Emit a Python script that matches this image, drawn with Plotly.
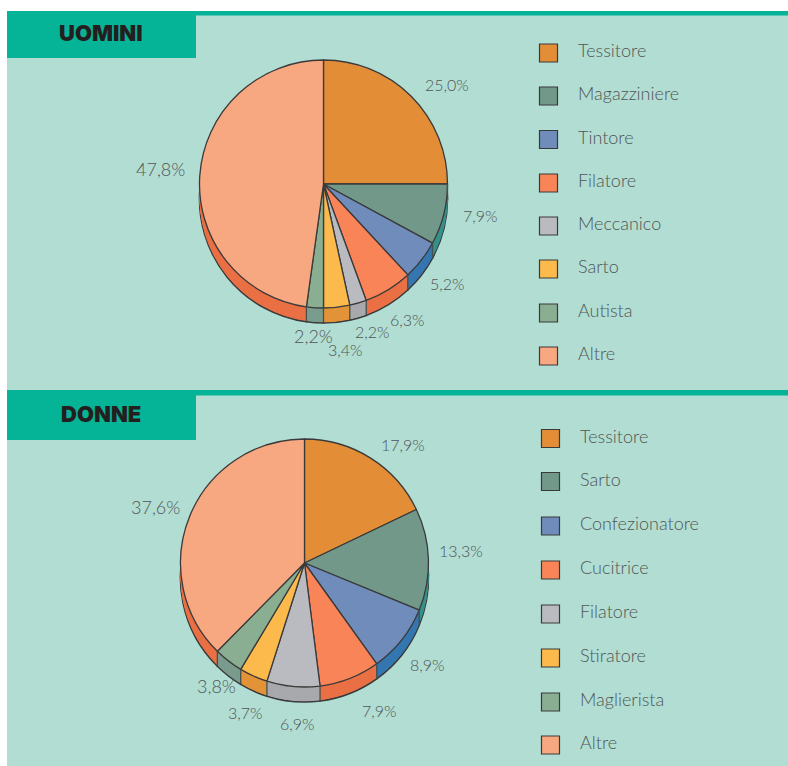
import numpy as np
import plotly.graph_objects as go

W, H = 788, 766
PANEL = "#b2ddd3"
TEAL = "#05b496"
OUTLINE = "#3a3a3a"
TEXT = "#505655"
FONT = "Lato"

men_labels = ["Tessitore", "Magazziniere", "Tintore", "Filatore", "Meccanico", "Sarto", "Autista", "Altre"]
men_values = [25.0, 7.9, 5.2, 6.3, 2.2, 3.4, 2.2, 47.8]
women_labels = ["Tessitore", "Sarto", "Confezionatore", "Cucitrice", "Filatore", "Stiratore", "Maglierista", "Altre"]
women_values = [17.9, 13.3, 8.9, 7.9, 6.9, 3.7, 3.8, 37.6]

top_colors = ["#e38e36", "#72988a", "#6f8cba", "#f98458", "#babbc0", "#fcb94c", "#8aae92", "#f8a880"]
side_colors = ["#e39338", "#36908a", "#3476b0", "#ea7045", "#a8a9ad", "#e39338", "#7a9c8e", "#ea7045"]

men_label_pos = [(447, 85), (480, 215), (447, 283), (407, 319), (372, 332), (345, 350), (313, 336), (160, 169)]
women_label_pos = [(403, 445), (461, 550), (427, 664), (379, 710), (297, 723), (245, 712), (216, 686), (155, 507)]
men_label_size = [16, 16, 16, 16, 16, 16, 18, 18]
women_label_size = [16, 16, 16, 16, 16, 16, 18, 18]
men_rows = [53, 96, 139.5, 183, 226, 269, 313, 356]
women_rows = [438.5, 481.5, 526, 570, 614, 658, 702, 745]

R = 124
DEPTH = 15


def X(px):
    return px / W


def Y(px):
    return 1 - px / H


fig = go.Figure()
shapes = []
annotations = []


def rect(x0, y0, x1, y1, fill, line=None, lw=0, layer="below"):
    shapes.append(dict(type="rect", xref="paper", yref="paper", x0=X(x0), x1=X(x1), y0=Y(y1), y1=Y(y0),
                       fillcolor=fill, line=dict(color=line or fill, width=lw), layer=layer))


def text(x, y, s, size, color=TEXT, anchor="center", weight=300, family=FONT):
    annotations.append(dict(x=X(x), y=Y(y), xref="paper", yref="paper", text=s, showarrow=False,
                            xanchor=anchor, yanchor="middle",
                            font=dict(family=family, size=size, color=color, weight=weight)))


def pie_at(labels, values, cx, cy, colors, line_color, line_width):
    fig.add_trace(go.Pie(labels=labels, values=values, sort=False, direction="clockwise", rotation=0,
                         textinfo="none", hoverinfo="skip", showlegend=False,
                         domain=dict(x=[X(cx - R), X(cx + R)], y=[Y(cy + R), Y(cy - R)]),
                         marker=dict(colors=colors, line=dict(color=line_color, width=line_width))))


def block(labels, values, cx, cy, label_pos, label_size, rows, sq_x, txt_x):
    # side wall: stacked copies of the pie, the lowest carrying the dark rim
    for off in range(DEPTH, 0, -1):
        pie_at(labels, values, cx, cy + off, side_colors,
               OUTLINE if off == DEPTH else "rgba(0,0,0,0)", 1.6 if off == DEPTH else 0)
    pie_at(labels, values, cx, cy, top_colors, OUTLINE, 1.3)

    # vertical seams of the wall at the slice boundaries on the lower half
    angles = np.cumsum(values) / np.sum(values) * 2 * np.pi
    for a in angles:
        if np.cos(a) < 0.05:
            xr, yr = cx + R * np.sin(a), cy - R * np.cos(a)
            shapes.append(dict(type="line", xref="paper", yref="paper", x0=X(xr), x1=X(xr),
                               y0=Y(yr), y1=Y(yr + DEPTH), line=dict(color="#44504c", width=1.3), layer="above"))

    for v, (lx, ly), sz in zip(values, label_pos, label_size):
        text(lx, ly, f"{v:.1f}%".replace(".", ","), sz)

    for name, color, row in zip(labels, top_colors, rows):
        rect(sq_x, row - 9, sq_x + 18, row + 9, color, line=OUTLINE, lw=1.2)
        text(txt_x, row - 3, name, 18, anchor="left")


# panels, bands and title tabs
rect(7, 15, W, 390, PANEL)
rect(0, 395, W, H, PANEL)
rect(0, 395, 7, H, "#ffffff")
rect(7, 11, W, 15.5, TEAL)
rect(7, 390, W, 395.5, TEAL)
rect(7, 15, 196, 58, TEAL)
rect(7, 395, 196, 440, TEAL)
text(100.5, 33.5, "UOMINI", 22, color="#231f20", weight=900, family="Inter")
text(100.5, 413.5, "DONNE", 22, color="#231f20", weight=900, family="Inter")

block(men_labels, men_values, 323.5, 184, men_label_pos, men_label_size, men_rows, 539.5, 576)
block(women_labels, women_values, 304.5, 563, women_label_pos, women_label_size, women_rows, 541.5, 578)

fig.update_layout(width=W, height=H, autosize=False, margin=dict(l=0, r=0, t=0, b=0),
                  paper_bgcolor="#ffffff", plot_bgcolor="#ffffff",
                  shapes=shapes, annotations=annotations, showlegend=False)

fig.write_html("out.html", config=dict(displayModeBar=False),
               post_script="document.body.style.margin='0';document.body.style.overflow='hidden';")
